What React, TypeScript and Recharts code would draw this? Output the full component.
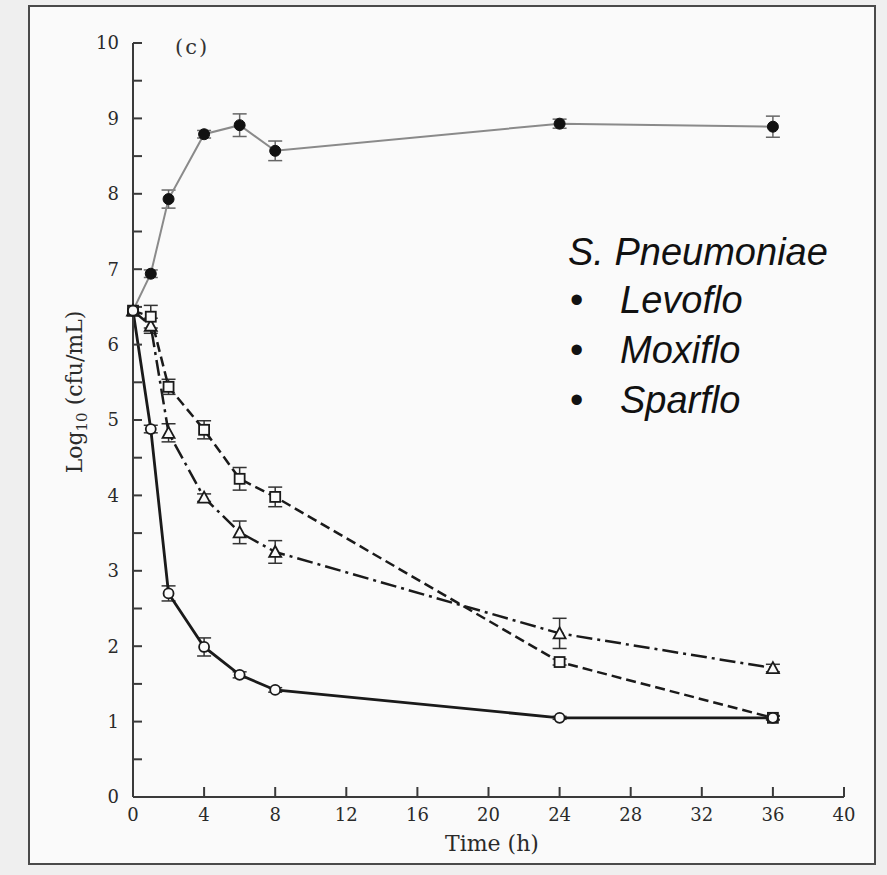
import { LineChart, Line, XAxis, YAxis, ErrorBar } from "recharts";

// sampling times (h)
const times = [0, 1, 2, 4, 6, 8, 24, 36];

// log10 cfu/mL per regimen
const control = [6.45, 6.94, 7.93, 8.79, 8.91, 8.57, 8.93, 8.89];
const controlErr = [0, 0.05, 0.12, 0.05, 0.15, 0.13, 0.06, 0.14];
const circles = [6.45, 4.88, 2.7, 1.99, 1.62, 1.42, 1.05, 1.05];
const circlesErr = [0, 0.05, 0.1, 0.12, 0.04, 0.03, 0.02, 0.02];
const squares = [6.45, 6.37, 5.44, 4.87, 4.22, 3.98, 1.79, 1.05];
const squaresErr = [0, 0.15, 0.1, 0.12, 0.15, 0.13, 0.04, 0.03];
const triangles = [6.45, 6.25, 4.83, 3.97, 3.51, 3.25, 2.17, 1.71];
const trianglesErr = [0, 0.1, 0.12, 0.05, 0.15, 0.15, 0.2, 0.05];

const xTicks = [0, 4, 8, 12, 16, 20, 24, 28, 32, 36, 40];
const yTicks = [0, 0.5, 1, 1.5, 2, 2.5, 3, 3.5, 4, 4.5, 5, 5.5, 6, 6.5, 7, 7.5, 8, 8.5, 9, 9.5, 10];

const legendTitle = "S. Pneumoniae";
const legendItems = ["Levoflo", "Moxiflo", "Sparflo"];

const data = times.map((t, i) => ({
  t,
  control: control[i],
  controlErr: controlErr[i],
  circles: circles[i],
  circlesErr: circlesErr[i],
  squares: squares[i],
  squaresErr: squaresErr[i],
  triangles: triangles[i],
  trianglesErr: trianglesErr[i],
}));

const SERIF = "'DejaVu Serif', 'Liberation Serif', serif";
const INK = "#1a1a1a";

function FilledDot(props: any) {
  const { cx, cy, index } = props;
  if (cx == null || cy == null) return <g key={index} />;
  return <circle key={index} cx={cx} cy={cy} r={5.5} fill="#111" stroke="#111" />;
}

function OpenDot(props: any) {
  const { cx, cy, index } = props;
  if (cx == null || cy == null) return <g key={index} />;
  return <circle key={index} cx={cx} cy={cy} r={5} fill="#fafafa" stroke={INK} strokeWidth={1.8} />;
}

function SquareDot(props: any) {
  const { cx, cy, index } = props;
  if (cx == null || cy == null) return <g key={index} />;
  return (
    <rect key={index} x={cx - 5} y={cy - 5} width={10} height={10} fill="#fafafa" stroke={INK} strokeWidth={1.8} />
  );
}

function TriangleDot(props: any) {
  const { cx, cy, index } = props;
  if (cx == null || cy == null) return <g key={index} />;
  return (
    <polygon
      key={index}
      points={`${cx},${cy - 6} ${cx - 6},${cy + 5} ${cx + 6},${cy + 5}`}
      fill="#fafafa"
      stroke={INK}
      strokeWidth={1.8}
    />
  );
}

export default function App() {
  return (
    <div
      style={{
        position: "absolute",
        left: 0,
        top: 0,
        width: 887,
        height: 875,
        background: "#efefef",
        overflow: "hidden",
      }}
    >
      {/* scanned figure frame */}
      <div
        style={{
          position: "absolute",
          left: 28,
          top: 5,
          width: 848,
          height: 860,
          boxSizing: "border-box",
          border: "2px solid #4a4a4a",
          background: "#fafafa",
        }}
      />
      <div style={{ position: "absolute", left: 0, top: 0 }}>
        <LineChart width={887} height={875} data={data} margin={{ top: 43, right: 43, bottom: 0, left: 0 }}>
          <XAxis
            dataKey="t"
            type="number"
            domain={[0, 40]}
            ticks={xTicks}
            interval={0}
            height={78}
            tickSize={-10}
            tickMargin={21}
            stroke="#3a3a3a"
            strokeWidth={2}
            tick={{ fill: "#2a2a2a", fontSize: 18, fontFamily: SERIF }}
          />
          <YAxis
            type="number"
            domain={[0, 10]}
            ticks={yTicks}
            interval={0}
            width={133}
            tickSize={-9}
            tickMargin={23}
            stroke="#3a3a3a"
            strokeWidth={2}
            tickFormatter={(v: number) => (Number.isInteger(v) ? String(v) : "")}
            tick={{ fill: "#2a2a2a", fontSize: 18, fontFamily: SERIF }}
          />
          <Line
            dataKey="control"
            stroke="#8a8a8a"
            strokeWidth={2}
            dot={FilledDot}
            activeDot={false}
            isAnimationActive={false}
          >
            <ErrorBar dataKey="controlErr" direction="y" width={7} stroke="#666" strokeWidth={1.5} isAnimationActive={false} />
          </Line>
          <Line
            dataKey="triangles"
            stroke={INK}
            strokeWidth={2.5}
            strokeDasharray="16 5 3 5"
            dot={TriangleDot}
            activeDot={false}
            isAnimationActive={false}
          >
            <ErrorBar dataKey="trianglesErr" direction="y" width={7} stroke="#333" strokeWidth={1.5} isAnimationActive={false} />
          </Line>
          <Line
            dataKey="squares"
            stroke={INK}
            strokeWidth={2.5}
            strokeDasharray="10 5"
            dot={SquareDot}
            activeDot={false}
            isAnimationActive={false}
          >
            <ErrorBar dataKey="squaresErr" direction="y" width={7} stroke="#333" strokeWidth={1.5} isAnimationActive={false} />
          </Line>
          <Line
            dataKey="circles"
            stroke={INK}
            strokeWidth={2.8}
            dot={OpenDot}
            activeDot={false}
            isAnimationActive={false}
          >
            <ErrorBar dataKey="circlesErr" direction="y" width={7} stroke="#333" strokeWidth={1.5} isAnimationActive={false} />
          </Line>
        </LineChart>
      </div>
      {/* annotations */}
      <svg
        width={887}
        height={875}
        style={{ position: "absolute", left: 0, top: 0, pointerEvents: "none" }}
      >
        <text x={175} y={54} fontFamily={SERIF} fontSize={21} letterSpacing={2} fill="#333">
          (c)
        </text>
        <text
          transform="translate(82, 392) rotate(-90)"
          textAnchor="middle"
          fontFamily={SERIF}
          fontSize={22}
          fill="#2a2a2a"
        >
          <tspan>Log</tspan>
          <tspan fontSize={15} dy={5}>
            10
          </tspan>
          <tspan dy={-5}> (cfu/mL)</tspan>
        </text>
        <text x={492} y={851} textAnchor="middle" fontFamily={SERIF} fontSize={22} fill="#2a2a2a">
          Time (h)
        </text>
        <g fontFamily="'Liberation Sans', Arial, sans-serif" fontSize={38} fill="#111">
          <text x={568} y={265} fontStyle="italic">
            {legendTitle}
          </text>
          {legendItems.map((name, i) => (
            <g key={name}>
              <text x={570} y={313 + i * 50}>
                •
              </text>
              <text x={620} y={313 + i * 50} fontStyle="italic">
                {name}
              </text>
            </g>
          ))}
        </g>
      </svg>
    </div>
  );
}
